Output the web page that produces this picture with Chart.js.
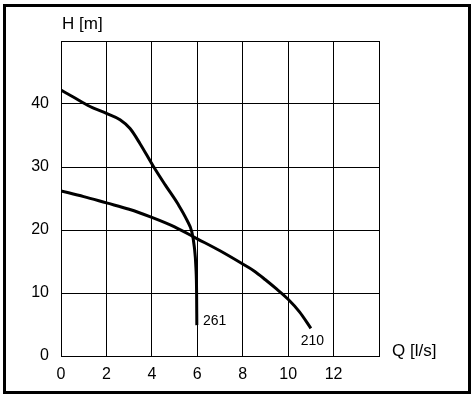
<!DOCTYPE html>
<html>
<head>
<meta charset="utf-8">
<script src="https://cdn.jsdelivr.net/npm/chart.js@4"></script>
<style>
  body { margin: 0; background: #fff; }
  #wrap { position: relative; width: 474px; height: 397px; }
  #frame { position: absolute; left: 3px; top: 4px; width: 468px; height: 390px;
           border: 3px solid #000; box-sizing: border-box; pointer-events: none; }
</style>
</head>
<body>
<div id="wrap">
  <canvas id="c" width="474" height="397"></canvas>
  <div id="frame"></div>
</div>
<script>
// pump curves, Q [l/s] vs H [m]
const q261 = [0, 0.5, 1.28, 2.0, 2.6, 3.04, 3.48, 4.05, 4.58, 5.17, 5.54, 5.76, 5.87, 5.94, 5.97, 5.98];
const h261 = [42.2, 41.2, 39.6, 38.5, 37.5, 36.1, 33.7, 30.2, 27.2, 24.0, 21.6, 19.7, 17.3, 14.0, 10.0, 4.9];
const q210 = [0, 1, 2, 3, 4, 5, 6, 7, 8, 8.5, 9, 9.5, 10, 10.5, 11];
const h210 = [26.2, 25.3, 24.3, 23.3, 22.0, 20.5, 18.6, 16.7, 14.6, 13.5, 12.1, 10.6, 9.0, 7.0, 4.4];

const xTicks = [0, 2, 4, 6, 8, 10, 12];
const yTicks = [0, 10, 20, 30, 40];
const curveLabels = [
  { text: '261', q: 6.25, h: 5.6 },
  { text: '210', q: 10.55, h: 2.4 }
];
const xTitle = 'Q [l/s]';
const yTitle = 'H [m]';

const FONT = 'Liberation Sans, Arial, sans-serif';

function pts(xs, ys) { return xs.map((x, i) => ({ x: x, y: ys[i] })); }

const textPlugin = {
  id: 'texts',
  afterDraw(chart) {
    const ctx = chart.ctx, xs = chart.scales.x, ys = chart.scales.y, a = chart.chartArea;
    ctx.save();
    ctx.fillStyle = '#000';
    ctx.textBaseline = 'middle';
    ctx.textAlign = 'left';
    ctx.font = '14px ' + FONT;
    curveLabels.forEach(l => ctx.fillText(l.text, xs.getPixelForValue(l.q), ys.getPixelForValue(l.h)));
    ctx.font = '17px ' + FONT;
    ctx.fillText(yTitle, a.left + 1, a.top - 17);
    ctx.fillText(xTitle, a.right + 13, a.bottom - 5);
    ctx.restore();
  }
};

new Chart(document.getElementById('c'), {
  type: 'line',
  data: {
    datasets: [
      { data: pts(q261, h261), borderColor: '#000', borderWidth: 3, pointRadius: 0, cubicInterpolationMode: 'monotone' },
      { data: pts(q210, h210), borderColor: '#000', borderWidth: 3, pointRadius: 0, cubicInterpolationMode: 'monotone' }
    ]
  },
  options: {
    responsive: false,
    animation: false,
    layout: { padding: { left: 0, top: 41, right: 95, bottom: 0 } },
    plugins: { legend: { display: false }, tooltip: { enabled: false } },
    scales: {
      x: {
        type: 'linear', min: 0, max: 14,
        afterFit: s => { s.height = 41; },
        afterBuildTicks: s => { s.ticks = xTicks.concat([14]).map(v => ({ value: v })); },
        grid: { color: '#000', lineWidth: 1, drawTicks: false },
        border: { color: '#000', width: 1 },
        ticks: { color: '#000', font: { size: 16, family: FONT }, padding: 9, maxRotation: 0,
                 callback: v => xTicks.includes(v) ? String(v) : '' }
      },
      y: {
        min: 0, max: 50,
        afterFit: s => { s.width = 61; },
        afterBuildTicks: s => { s.ticks = yTicks.concat([50]).map(v => ({ value: v })); },
        grid: { color: '#000', lineWidth: 1, drawTicks: false },
        border: { color: '#000', width: 1 },
        ticks: { color: '#000', font: { size: 16, family: FONT }, padding: 12,
                 callback: v => yTicks.includes(v) ? String(v) : '' }
      }
    }
  },
  plugins: [textPlugin]
});
</script>
</body>
</html>
